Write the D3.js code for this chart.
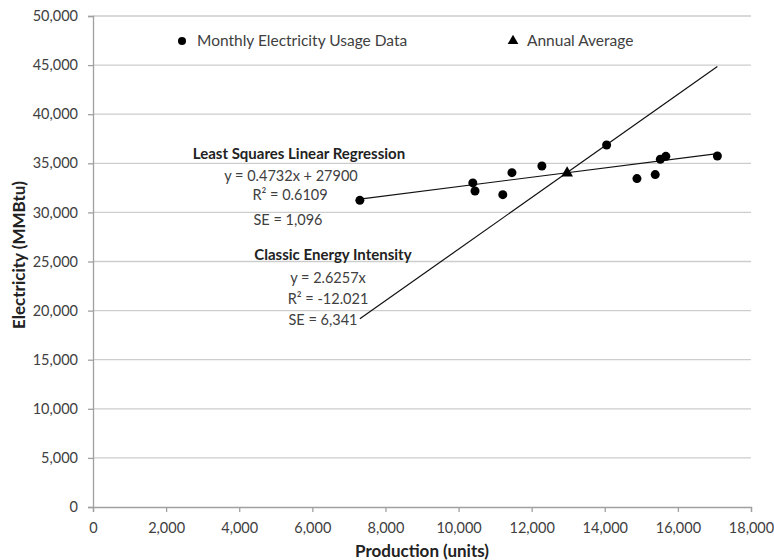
<!DOCTYPE html>
<html>
<head>
<meta charset="utf-8">
<script src="https://cdn.jsdelivr.net/npm/d3@7"></script>
<style>
  body { margin: 0; background: #fff; }
  text { font-family: Lato, "Open Sans", sans-serif; }
  .tick text { fill: #404040; font-size: 14.5px; }
  .note { fill: #404040; font-size: 14.5px; }
  .legend { fill: #404040; font-size: 15.5px; }
  .bold { fill: #222; font-size: 15px; font-weight: bold; }
  .title { fill: #222; font-size: 17px; font-weight: bold; }
</style>
</head>
<body>
<svg id="chart" width="774" height="560"></svg>
<script>
// monthly data
var production = [7300, 10390, 10450, 11210, 11460, 12280, 14050, 14880, 15380, 15520, 15670, 17080];
var electricity = [31230, 33000, 32180, 31810, 34050, 34720, 36860, 33440, 33850, 35410, 35710, 35740];
// annual average
var avgProduction = [12970];
var avgElectricity = [34000];
// fitted lines (slope, intercept)
var regression = [0.4732, 27900];
var intensity = [2.6257, 0];

var xTicks = [0, 2000, 4000, 6000, 8000, 10000, 12000, 14000, 16000, 18000];
var yTicks = [0, 5000, 10000, 15000, 20000, 25000, 30000, 35000, 40000, 45000, 50000];

var margin = {top: 16, right: 23, bottom: 53, left: 93};
var width = 774 - margin.left - margin.right;
var height = 560 - margin.top - margin.bottom;

var svg = d3.select("#chart");
var g = svg.append("g").attr("transform", "translate(" + margin.left + "," + margin.top + ")");

var x = d3.scaleLinear().domain([0, 18000]).range([0, width]);
var y = d3.scaleLinear().domain([0, 50000]).range([height, 0]);
var fmt = d3.format(",");

// gridlines
g.append("g").selectAll("line")
  .data(yTicks.slice(1))
  .enter().append("line")
  .attr("x1", 0).attr("x2", width)
  .attr("y1", function(d) { return y(d); })
  .attr("y2", function(d) { return y(d); })
  .attr("stroke", "#cdcdcd").attr("stroke-width", 1.3);

var xAxis = g.append("g")
  .attr("transform", "translate(0," + height + ")")
  .call(d3.axisBottom(x).tickValues(xTicks).tickFormat(fmt).tickSize(5).tickPadding(11));
var yAxis = g.append("g")
  .call(d3.axisLeft(y).tickValues(yTicks).tickFormat(fmt).tickSize(5).tickPadding(10));
[xAxis, yAxis].forEach(function(a) {
  a.select(".domain").attr("stroke", "#a0a0a0").attr("stroke-width", 1.3);
  a.selectAll(".tick line").attr("stroke", "#a0a0a0").attr("stroke-width", 1.3);
});

// fitted lines across the data range
var xr = d3.extent(production);
function fitLine(c) {
  return xr.map(function(v) { return [x(v), y(c[0] * v + c[1])]; });
}
g.append("path").attr("d", d3.line()(fitLine(regression)))
  .attr("stroke", "#111").attr("stroke-width", 1.2).attr("fill", "none");
g.append("path").attr("d", d3.line()(fitLine(intensity)))
  .attr("stroke", "#111").attr("stroke-width", 1.2).attr("fill", "none");

// points
g.append("g").selectAll("circle")
  .data(production)
  .enter().append("circle")
  .attr("cx", function(d) { return x(d); })
  .attr("cy", function(d, i) { return y(electricity[i]); })
  .attr("r", 4.5).attr("fill", "#000");

var tri = d3.symbol().type(d3.symbolTriangle).size(60);
g.append("g").selectAll("path")
  .data(avgProduction)
  .enter().append("path")
  .attr("d", tri)
  .attr("transform", function(d, i) { return "translate(" + x(d) + "," + y(avgElectricity[i]) + ")"; })
  .attr("fill", "#000");

// legend
svg.append("circle").attr("cx", 182).attr("cy", 41).attr("r", 4).attr("fill", "#000");
svg.append("text").attr("class", "legend").attr("x", 197).attr("y", 46).text("Monthly Electricity Usage Data");
svg.append("path").attr("d", d3.symbol().type(d3.symbolTriangle).size(50))
  .attr("transform", "translate(513,41)").attr("fill", "#000");
svg.append("text").attr("class", "legend").attr("x", 527).attr("y", 46).text("Annual Average");

// annotations
var notes = [
  {t: "Least Squares Linear Regression", x: 299, y: 159, c: "bold"},
  {t: "y = 0.4732x + 27900", x: 291, y: 181, c: "note"},
  {t: "R² = 0.6109", x: 290, y: 200, c: "note"},
  {t: "SE = 1,096", x: 288, y: 225, c: "note"},
  {t: "Classic Energy Intensity", x: 333, y: 260, c: "bold"},
  {t: "y = 2.6257x", x: 328, y: 283, c: "note"},
  {t: "R² = -12.021", x: 328, y: 304, c: "note"},
  {t: "SE = 6,341", x: 323, y: 325, c: "note"}
];
svg.append("g").selectAll("text")
  .data(notes)
  .enter().append("text")
  .attr("class", function(d) { return d.c; })
  .attr("x", function(d) { return d.x; })
  .attr("y", function(d) { return d.y; })
  .attr("text-anchor", "middle")
  .text(function(d) { return d.t; });

// axis titles
svg.append("text").attr("class", "title")
  .attr("x", 422).attr("y", 557)
  .attr("text-anchor", "middle").text("Production (units)");
svg.append("text").attr("class", "title")
  .attr("transform", "translate(25,255) rotate(-90)")
  .attr("text-anchor", "middle").text("Electricity (MMBtu)");
</script>
</body>
</html>
